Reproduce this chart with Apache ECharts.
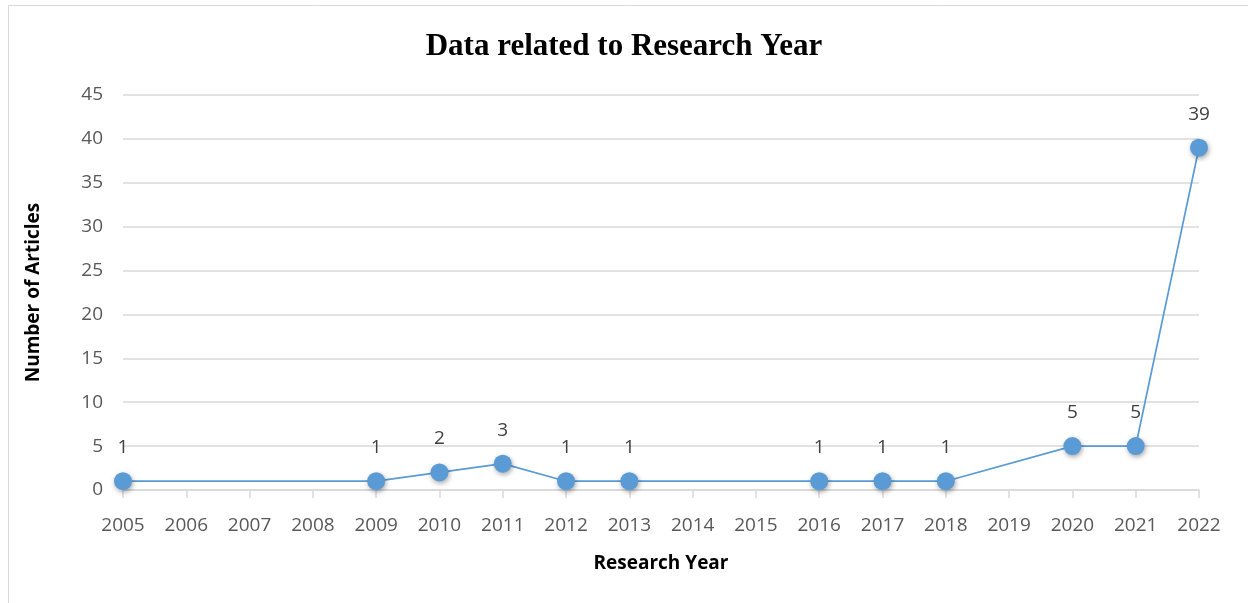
<!DOCTYPE html>
<html>
<head>
<meta charset="utf-8">
<script src="https://cdn.jsdelivr.net/npm/echarts@6/dist/echarts.min.js"></script>
<style>
  html, body { margin: 0; padding: 0; background: #fff; }
  #chart-container { width: 1248px; height: 603px; }
</style>
</head>
<body>
<div id="chart-container"></div>
<script>
var years = ['2005', '2006', '2007', '2008', '2009', '2010', '2011', '2012', '2013',
  '2014', '2015', '2016', '2017', '2018', '2019', '2020', '2021', '2022'];
// null = no articles recorded for that year (no point drawn)
var articles = [1, null, null, null, 1, 2, 3, 1, 1, null, null, 1, 1, 1, null, 5, 5, 39];
var yTicks = [0, 5, 10, 15, 20, 25, 30, 35, 40, 45];

var dom = document.getElementById('chart-container');
var myChart = echarts.init(dom, null, { renderer: 'canvas' });

var labelFont = '"Open Sans", "Noto Sans", sans-serif';

var option = {
  backgroundColor: '#fff',
  animation: false,
  graphic: [{
    type: 'rect',
    shape: { x: 8.5, y: 5.5, width: 1260, height: 620 },
    style: { fill: 'none', stroke: '#d9d9d9', lineWidth: 1 },
    silent: true
  }],
  title: {
    text: 'Data related to Research Year',
    left: 'center',
    top: 26,
    textStyle: {
      fontFamily: '"Liberation Serif", "DejaVu Serif", serif',
      fontWeight: 'bold',
      fontSize: 31,
      color: '#000'
    }
  },
  grid: { left: 123, right: 49, top: 95, bottom: 113 },
  xAxis: {
    type: 'category',
    data: years,
    boundaryGap: false,
    name: 'Research Year',
    nameLocation: 'middle',
    nameGap: 64,
    nameTextStyle: { fontFamily: labelFont, fontWeight: 'bold', fontSize: 19, color: '#000' },
    axisLine: { lineStyle: { color: '#d9d9d9', width: 1.5 } },
    axisTick: { show: true, alignWithLabel: true, length: 8, lineStyle: { color: '#d9d9d9', width: 1.5 } },
    axisLabel: { fontFamily: labelFont, fontSize: 19, color: '#595959', margin: 26, interval: 0 }
  },
  yAxis: {
    type: 'value',
    min: yTicks[0],
    max: yTicks[yTicks.length - 1],
    interval: 5,
    name: 'Number of Articles',
    nameLocation: 'middle',
    nameGap: 80,
    nameRotate: 90,
    nameTextStyle: { fontFamily: labelFont, fontWeight: 'bold', fontSize: 19, color: '#000' },
    axisLine: { show: false },
    axisTick: { show: false },
    axisLabel: { fontFamily: labelFont, fontSize: 19, color: '#595959', margin: 20 },
    splitLine: { lineStyle: { color: '#d9d9d9', width: 1.5 } }
  },
  series: [{
    type: 'line',
    data: articles,
    connectNulls: true,
    symbol: 'circle',
    symbolSize: 18,
    lineStyle: { color: '#5b9bd5', width: 1.75 },
    itemStyle: {
      color: '#5b9bd5',
      shadowColor: 'rgba(0,0,0,0.35)',
      shadowBlur: 5,
      shadowOffsetX: 1,
      shadowOffsetY: 2
    },
    label: {
      show: true,
      position: 'top',
      distance: 15,
      fontFamily: labelFont,
      fontSize: 19,
      color: '#404040'
    }
  }]
};

myChart.setOption(option);
window.addEventListener('resize', myChart.resize);
</script>
</body>
</html>
